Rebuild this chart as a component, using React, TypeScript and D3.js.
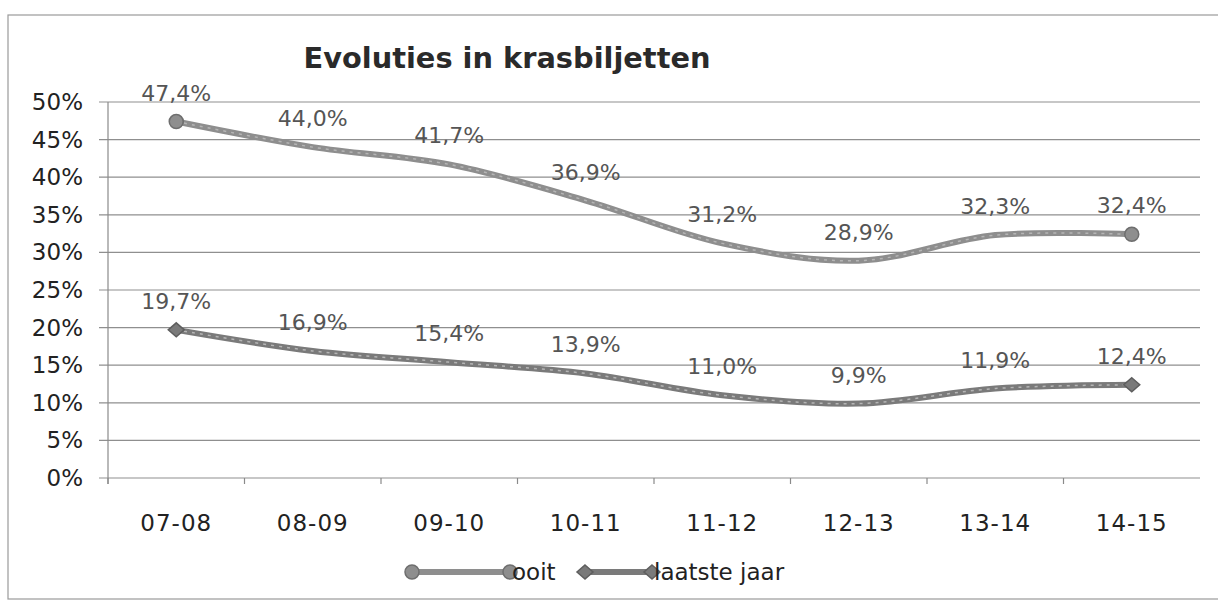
import React from "react";
import * as d3 from "d3";

const categories = ["07-08", "08-09", "09-10", "10-11", "11-12", "12-13", "13-14", "14-15"];
const ooit = [47.4, 44.0, 41.7, 36.9, 31.2, 28.9, 32.3, 32.4];
const laatsteJaar = [19.7, 16.9, 15.4, 13.9, 11.0, 9.9, 11.9, 12.4];
const yTicks = [0, 5, 10, 15, 20, 25, 30, 35, 40, 45, 50];
const seriesNames = ["ooit", "laatste jaar"];
const title = "Evoluties in krasbiljetten";

const W = 1218;
const H = 609;
const left = 108;
const right = 1200;
const top = 102;
const bottom = 478;

const fmt = (v: number) => v.toFixed(1).replace(".", ",") + "%";

export default function App() {
  const x = d3.scaleBand<string>().domain(categories).range([left, right]).paddingInner(0).paddingOuter(0);
  const y = d3.scaleLinear().domain([0, 50]).range([bottom, top]);
  const cx = (c: string) => (x(c) as number) + x.bandwidth() / 2;

  const line = d3
    .line<number>()
    .x((_, i) => cx(categories[i]))
    .y((d) => y(d))
    .curve(d3.curveCatmullRom.alpha(0.5));

  const diamond = "M0,-7L8,0L0,7L-8,0Z";
  const font = "'DejaVu Sans', Verdana, sans-serif";

  const series = [
    { name: seriesNames[0], data: ooit, color: "#8e8e8e", dark: "#6e6e6e", marker: "circle" },
    { name: seriesNames[1], data: laatsteJaar, color: "#7a7a7a", dark: "#5e5e5e", marker: "diamond" },
  ];

  const marker = (kind: string, px: number, py: number, fill: string, stroke: string, key: string) =>
    kind === "circle" ? (
      <circle key={key} cx={px} cy={py} r={7} fill={fill} stroke={stroke} strokeWidth={1.5} />
    ) : (
      <path key={key} d={diamond} transform={`translate(${px},${py})`} fill={fill} stroke={stroke} strokeWidth={1.5} />
    );

  const legendItems = [
    { x1: 412, x2: 510, tx: 512, s: series[0] },
    { x1: 585, x2: 652, tx: 654, s: series[1] },
  ];

  return (
    <svg
      width={W}
      height={H}
      style={{ position: "absolute", left: 0, top: 0, background: "#fff" }}
      fontFamily={font}
    >
      <rect x={0} y={0} width={W} height={H} fill="#fff" />
      <rect x={8} y={15} width={1212} height={584} fill="none" stroke="#9a9a9a" strokeWidth={1.2} />

      <text
        x={507}
        y={68}
        textAnchor="middle"
        fontSize={28}
        fontWeight="bold"
        fill="#2a2a2a"
        textLength={407}
        lengthAdjust="spacingAndGlyphs"
      >
        {title}
      </text>

      {yTicks.map((t) => (
        <g key={t}>
          <line x1={99} x2={right} y1={y(t)} y2={y(t)} stroke="#8f8f8f" strokeWidth={1.2} />
          <text x={83} y={y(t) + 8} textAnchor="end" fontSize={23} fill="#222">
            {t}%
          </text>
        </g>
      ))}
      <line x1={left} x2={left} y1={top} y2={bottom + 6} stroke="#8a8a8a" strokeWidth={1.2} />
      {categories.map((c) => (
        <line key={"t" + c} x1={x(c) as number} x2={x(c) as number} y1={bottom} y2={bottom + 6} stroke="#8a8a8a" strokeWidth={1.2} />
      ))}
      {categories.map((c) => (
        <text key={"x" + c} x={cx(c)} y={531} textAnchor="middle" fontSize={23} fill="#222" letterSpacing={1}>
          {c}
        </text>
      ))}

      {series.map((s) => (
        <g key={s.name}>
          <path d={line(s.data) as string} fill="none" stroke={s.color} strokeWidth={6} strokeLinecap="round" />
          <path d={line(s.data) as string} fill="none" stroke="#b5b5b5" strokeWidth={1.5} strokeDasharray="3 5" />
          {s.data.map((v, i) =>
            i === 0 || i === s.data.length - 1 ? marker(s.marker, cx(categories[i]), y(v), s.color, s.dark, s.name + i) : null
          )}
          {s.data.map((v, i) => (
            <text key={"l" + i} x={cx(categories[i])} y={y(v) - 21} textAnchor="middle" fontSize={22} fill="#555">
              {fmt(v)}
            </text>
          ))}
        </g>
      ))}

      {legendItems.map((l) => (
        <g key={l.s.name}>
          <line x1={l.x1} x2={l.x2} y1={572} y2={572} stroke={l.s.color} strokeWidth={6} />
          {marker(l.s.marker, l.x1, 572, l.s.color, l.s.dark, "a")}
          {marker(l.s.marker, l.x2, 572, l.s.color, l.s.dark, "b")}
          <text x={l.tx} y={580} fontSize={23} fill="#222">
            {l.s.name}
          </text>
        </g>
      ))}
    </svg>
  );
}
